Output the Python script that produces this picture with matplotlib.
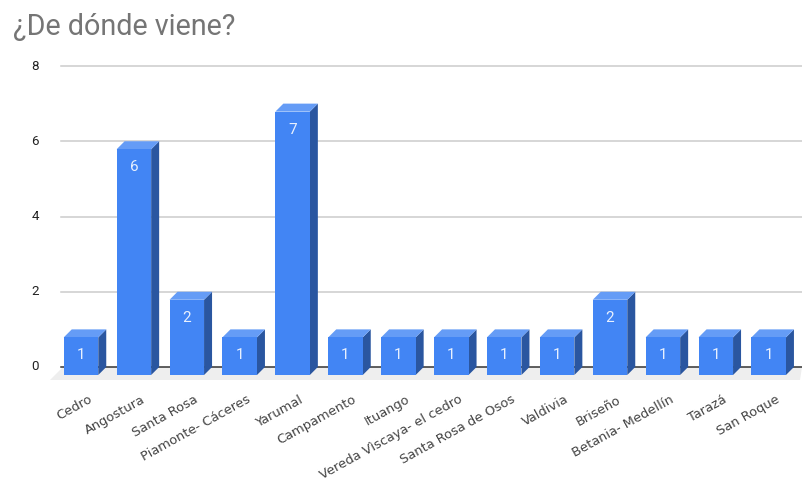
import matplotlib
matplotlib.use('Agg')
import matplotlib.pyplot as plt

plt.rcParams['font.family'] = ['Roboto', 'DejaVu Sans']

lugares = ['Cedro', 'Angostura', 'Santa Rosa', 'Piamonte- Cáceres', 'Yarumal',
           'Campamento', 'Ituango', 'Vereda Vìscaya- el cedro', 'Santa Rosa de Osos',
           'Valdivia', 'Briseño', 'Betania- Medellín', 'Tarazá', 'San Roque']
conteo = [1, 6, 2, 1, 7, 1, 1, 1, 1, 1, 2, 1, 1, 1]
y_ticks = [0, 2, 4, 6, 8]

W, H = 802, 482
# pixel layout
px_left, px_right = 61, 802
px_y8, px_y0 = 66, 367
px_per_unit = (px_y0 - px_y8) / 8
px_per_cat = 52.9
first_center = 81

fig = plt.figure(figsize=(W / 100, H / 100), dpi=100)
ax = fig.add_axes([px_left / W, 1 - px_y0 / H, (px_right - px_left) / W, (px_y0 - px_y8) / H])
ax.set_xlim((px_left - first_center) / px_per_cat, (px_right - first_center) / px_per_cat)
ax.set_ylim(0, 8)
ax.axis('off')

dx = 8 / px_per_cat
dy = 8 / px_per_unit
bar_w = 34.5 / px_per_cat
xmin, xmax = ax.get_xlim()

# floor
floor_h = 13 / px_per_unit
ax.fill([xmin - 11 / px_per_cat, xmin + 2 / px_per_cat, xmax, xmax - 2 / px_per_cat],
        [-floor_h, 0, 0, -floor_h], color='#eeeeee', lw=0, clip_on=False, zorder=1)

# grid
for t in y_ticks:
    if t == 0:
        ax.plot([xmin, xmax], [0, 0], color='#333333', lw=1.1, clip_on=False, zorder=2)
    else:
        ax.plot([xmin, xmax], [t, t], color='#cccccc', lw=1.1, clip_on=False, zorder=2)
    ax.annotate(str(t), xy=(xmin, t), xytext=(-26, 0), textcoords='offset pixels',
                ha='center', va='center', fontsize=9.6, color='#222222', annotation_clip=False)

# bars
for i, v in enumerate(conteo):
    l = i - bar_w / 2
    r = i + bar_w / 2
    top = v - dy
    bottom = -dy
    ax.fill([r, r + dx, r + dx, r], [bottom, bottom + dy, top + dy, top],
            color='#2a56a0', lw=0, clip_on=False, zorder=3)
    ax.fill([l, l + dx, r + dx, r], [top, top + dy, top + dy, top],
            color='#659cf6', lw=0, clip_on=False, zorder=3)
    ax.bar(i, v, width=bar_w, bottom=bottom, color='#4285f4', lw=0, clip_on=False, zorder=4)
    ax.annotate(str(v), xy=(i, top), xytext=(0, -18), textcoords='offset pixels',
                ha='center', va='center', fontsize=11, color='#e8f0fe', zorder=5,
                annotation_clip=False)

# rotated category labels, wide font because the original is tracked out
for i, name in enumerate(lugares):
    ax.annotate(name, xy=(i, 0), xytext=(7, -26), textcoords='offset pixels',
                ha='right', va='top', rotation=29, rotation_mode='anchor',
                fontsize=9.4, family='DejaVu Sans', color='#444444', annotation_clip=False)

fig.text(13 / W, 1 - 35 / H, '¿De dónde viene?', fontsize=20.7, color='#757575', ha='left', va='baseline')

fig.savefig('out.png', dpi=100)
